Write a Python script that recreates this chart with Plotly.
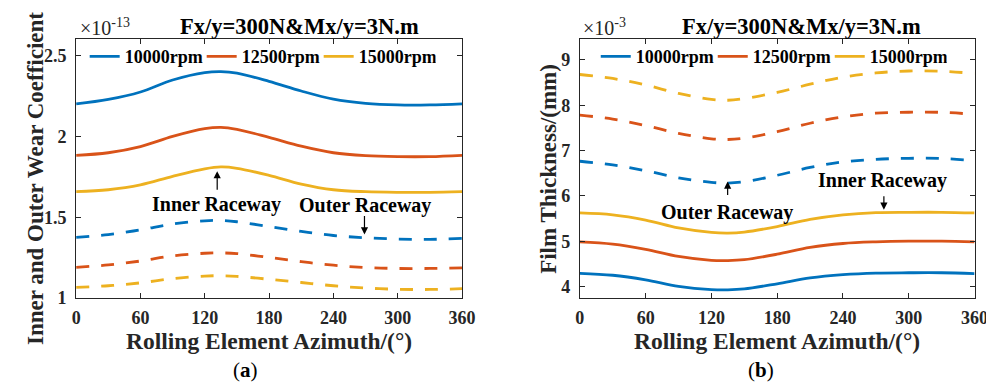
import plotly.graph_objects as go

# ---------------- data ----------------
theta = [0, 30, 60, 90, 120, 135, 150, 180, 210, 240, 270, 300, 330, 360]
speeds = ["10000rpm", "12500rpm", "15000rpm"]

# (a) wear coefficient, x1e-13
wear_inner_10000 = [2.201, 2.229, 2.275, 2.349, 2.395, 2.401, 2.392, 2.341, 2.281, 2.231, 2.205, 2.195, 2.195, 2.202]
wear_inner_12500 = [1.883, 1.899, 1.937, 2.000, 2.048, 2.056, 2.044, 1.994, 1.940, 1.899, 1.881, 1.875, 1.875, 1.883]
wear_inner_15000 = [1.658, 1.670, 1.700, 1.753, 1.799, 1.811, 1.803, 1.759, 1.705, 1.670, 1.658, 1.654, 1.654, 1.658]
wear_outer_10000 = [1.375, 1.392, 1.422, 1.458, 1.478, 1.480, 1.472, 1.442, 1.412, 1.387, 1.373, 1.365, 1.363, 1.369]
wear_outer_12500 = [1.190, 1.205, 1.229, 1.261, 1.277, 1.279, 1.275, 1.251, 1.225, 1.203, 1.189, 1.183, 1.183, 1.187]
wear_outer_15000 = [1.066, 1.076, 1.094, 1.120, 1.136, 1.138, 1.134, 1.116, 1.096, 1.076, 1.062, 1.054, 1.053, 1.058]

# (b) film thickness, x1e-3 mm
film_inner_10000 = [4.295, 4.252, 4.150, 4.007, 3.935, 3.929, 3.950, 4.064, 4.193, 4.265, 4.300, 4.307, 4.307, 4.288]
film_inner_12500 = [4.988, 4.939, 4.823, 4.666, 4.580, 4.574, 4.595, 4.716, 4.866, 4.952, 4.988, 5.003, 5.003, 4.988]
film_inner_15000 = [5.626, 5.584, 5.469, 5.296, 5.197, 5.182, 5.204, 5.326, 5.483, 5.584, 5.633, 5.640, 5.640, 5.626]
film_outer_10000 = [6.765, 6.686, 6.557, 6.400, 6.300, 6.284, 6.314, 6.456, 6.628, 6.750, 6.808, 6.830, 6.826, 6.778]
film_outer_12500 = [7.782, 7.696, 7.552, 7.380, 7.260, 7.245, 7.273, 7.416, 7.603, 7.745, 7.825, 7.846, 7.843, 7.800]
film_outer_15000 = [8.678, 8.590, 8.447, 8.261, 8.130, 8.110, 8.147, 8.283, 8.463, 8.620, 8.712, 8.755, 8.750, 8.700]

x_ticks = [0, 60, 120, 180, 240, 300, 360]
wear_ticks = [1, 1.5, 2, 2.5]
film_ticks = [4, 5, 6, 7, 8, 9]

colors = ["#0072BD", "#D95319", "#EDB120"]

# ---------------- figure ----------------
W, H = 994, 388
FONT = "Liberation Serif, Times New Roman, serif"
TXT = "#262626"
DASH = "13px,12px"

def px(x):
    return x / W

def py(y):
    return 1 - y / H

fig = go.Figure()

wear_inner = [wear_inner_10000, wear_inner_12500, wear_inner_15000]
wear_outer = [wear_outer_10000, wear_outer_12500, wear_outer_15000]
film_inner = [film_inner_10000, film_inner_12500, film_inner_15000]
film_outer = [film_outer_10000, film_outer_12500, film_outer_15000]

for i in range(3):
    fig.add_trace(go.Scatter(x=theta, y=wear_inner[i], mode="lines", name=speeds[i],
                             line=dict(color=colors[i], width=2.8, shape="spline"),
                             xaxis="x", yaxis="y", legend="legend"))
for i in range(3):
    fig.add_trace(go.Scatter(x=theta, y=wear_outer[i], mode="lines", showlegend=False,
                             line=dict(color=colors[i], width=2.8, dash=DASH, shape="spline"),
                             xaxis="x", yaxis="y"))
for i in range(3):
    fig.add_trace(go.Scatter(x=theta, y=film_inner[i], mode="lines", name=speeds[i],
                             line=dict(color=colors[i], width=2.8, shape="spline"),
                             xaxis="x2", yaxis="y2", legend="legend2"))
for i in range(3):
    fig.add_trace(go.Scatter(x=theta, y=film_outer[i], mode="lines", showlegend=False,
                             line=dict(color=colors[i], width=2.8, dash=DASH, shape="spline"),
                             xaxis="x2", yaxis="y2"))

axis_common = dict(showgrid=False, zeroline=False, showline=True, linecolor=TXT, linewidth=1,
                   mirror="ticks", ticks="inside", ticklen=5, tickcolor=TXT, tickwidth=1,
                   tickfont=dict(family=FONT, size=18, color=TXT, weight="bold"))

ytop, ybot = 32.3, 297.7
legend_font = dict(family=FONT, size=18, color="black", weight="bold")
fig.update_layout(
    width=W, height=H,
    margin=dict(l=0, r=0, t=0, b=0),
    paper_bgcolor="white", plot_bgcolor="white",
    xaxis=dict(domain=[px(64.3), px(457.3)], range=[0, 360], tickvals=x_ticks, anchor="y",
               ticklabelstandoff=3, **axis_common),
    yaxis=dict(domain=[py(ybot), py(ytop)], range=[1, 2.6], tickvals=wear_ticks,
               ticktext=["1", "1.5", "2", "2.5"], anchor="x", ticklabelstandoff=5, **axis_common),
    xaxis2=dict(domain=[px(577.3), px(979.3)], range=[0, 360], tickvals=x_ticks, anchor="y2",
                ticklabelstandoff=3, **axis_common),
    yaxis2=dict(domain=[py(ybot), py(ytop)], range=[3.75, 9.45], tickvals=film_ticks,
                anchor="x2", ticklabelstandoff=5, **axis_common),
    legend=dict(orientation="h", x=px(73), y=py(50), xanchor="left", yanchor="middle",
                bgcolor="rgba(0,0,0,0)", borderwidth=0, itemwidth=30,
                entrywidth=72, entrywidthmode="pixels", font=legend_font),
    legend2=dict(orientation="h", x=px(593.5), y=py(50), xanchor="left", yanchor="middle",
                 bgcolor="rgba(0,0,0,0)", borderwidth=0, itemwidth=30,
                 entrywidth=72, entrywidthmode="pixels", font=legend_font),
    showlegend=True,
)

ann = []
def text_ann(x, y, text, size, bold=True, angle=0, xanchor="center", yanchor="middle", color="black"):
    ann.append(dict(x=px(x), y=py(y), xref="paper", yref="paper", text=text, showarrow=False,
                    textangle=angle, xanchor=xanchor, yanchor=yanchor,
                    font=dict(family=FONT, size=size, color=color, weight="bold" if bold else "normal")))

# titles
text_ann(292, 19, "Fx/y=300N&Mx/y=3N.m", 22.5)
text_ann(803, 19, "Fx/y=300N&Mx/y=3N.m", 22.5)
# exponent labels
text_ann(66, 19, "×10<sup>-13</sup>", 20, bold=False, xanchor="left", color=TXT)
text_ann(578, 19, "×10<sup>-3</sup>", 20, bold=False, xanchor="left", color=TXT)
# axis titles
text_ann(260.8, 342, "Rolling Element Azimuth/(°)", 23.5, color=TXT)
text_ann(778.3, 342, "Rolling Element Azimuth/(°)", 23.5, color=TXT)
text_ann(23, 175, "Inner and Outer Wear Coefficient", 23, angle=-90, color=TXT)
text_ann(546, 165, "Film Thickness/(mm)", 23, angle=-90, color=TXT)
# panel labels
text_ann(237, 372, "(<b>a</b>)", 21, bold=False)
text_ann(762, 372, "(<b>b</b>)", 21, bold=False)
# raceway labels
text_ann(207, 202, "Inner Raceway", 20)
text_ann(359, 203, "Outer Raceway", 20)
text_ann(886, 177, "Inner Raceway", 20)
text_ann(727, 210, "Outer Raceway", 20)

# arrows
def arrow(x, y, ay, xref, yref):
    ann.append(dict(x=x, y=y, xref=xref, yref=yref, ax=0, ay=ay, axref="pixel", ayref="pixel",
                    text="", showarrow=True, arrowhead=2, arrowsize=1.2, arrowwidth=1.2,
                    arrowcolor="black"))

arrow(131.6, 1.785, 20, "x", "y")
arrow(269, 1.393, -20, "x", "y")
arrow(277.3, 5.697, -15, "x2", "y2")
arrow(134.8, 6.32, 15, "x2", "y2")

fig.update_layout(annotations=ann)
fig.write_html("out.html")
